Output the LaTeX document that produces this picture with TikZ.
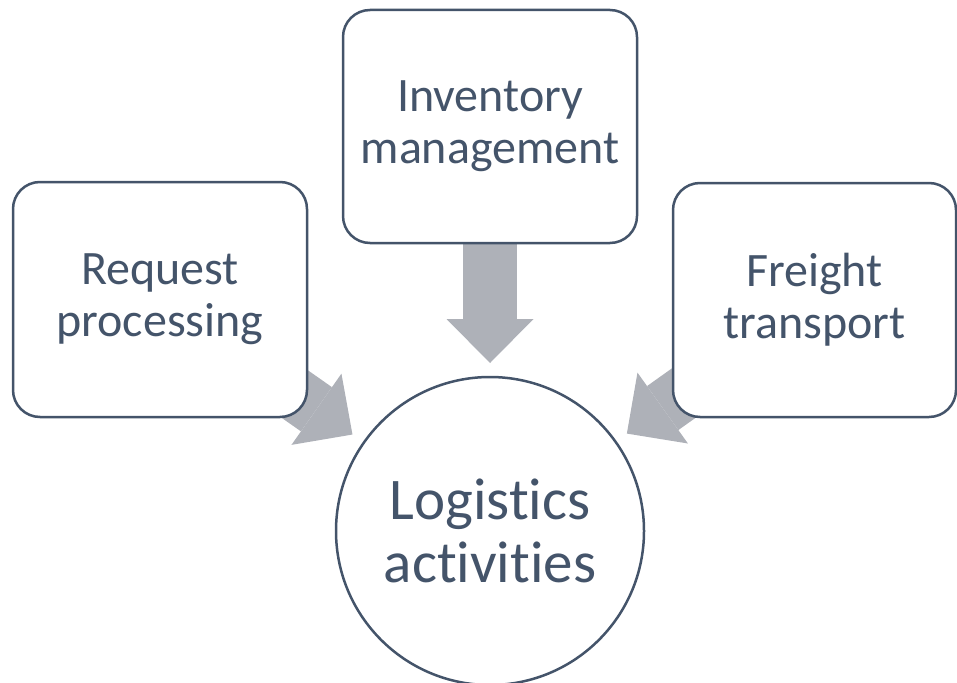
\documentclass[tikz,border=0pt]{standalone}
\usepackage{fontspec}
\setmainfont{Carlito}[Ligatures=NoCommon]
\usetikzlibrary{arrows.meta,backgrounds}
\definecolor{ink}{HTML}{44546A}
\definecolor{arrowgray}{HTML}{AEB1B8}
\begin{document}
\begin{tikzpicture}[x=1pt,y=-1pt,
  box/.style={draw=ink, line width=2.5pt, fill=white, rounded corners=27pt,
    text=ink, align=center, font=\fontsize{48}{52}\selectfont, inner sep=0pt},
  hub/.style={circle, draw=ink, line width=2.5pt, fill=white, text=ink,
    align=center, font=\fontsize{59}{63}\selectfont, minimum size=308pt, inner sep=0pt},
  flow/.style={draw=arrowgray, line width=54pt,
    -{Triangle[length=44pt,width=87pt,line width=0pt]}, shorten >=168pt}]
\useasboundingbox (0,0) rectangle (957,682);
\node[box, minimum width=294pt, minimum height=235pt] (req) at (160,299.5) {Request\\processing};
\node[box, minimum width=294pt, minimum height=233pt] (inv) at (490,126.5) {Inventory\\management};
\node[box, minimum width=283pt, minimum height=234pt] (fre) at (814.5,300) {Freight\\transport};
\node[hub] (log) at (490,531) {Logistics\\activities};
\begin{scope}[on background layer]
  \draw[flow] (req.center) -- (log.center);
  \draw[flow] (inv.center) -- (log.center);
  \draw[flow] (fre.center) -- (log.center);
\end{scope}
\end{tikzpicture}
\end{document}
